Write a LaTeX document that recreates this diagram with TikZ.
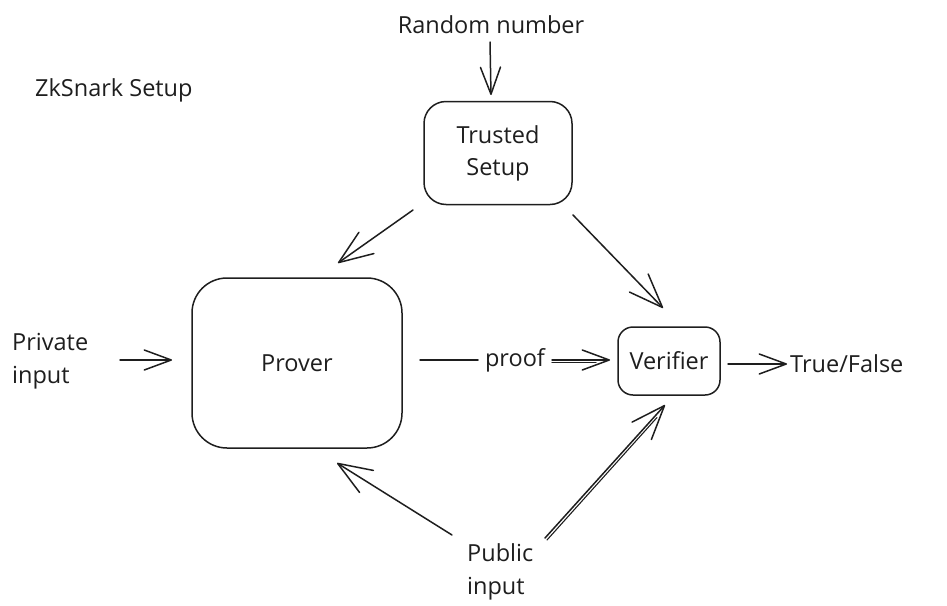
\documentclass[tikz,border=0pt]{standalone}
\usepackage{fontspec}
\setmainfont{Open Sans}
\usetikzlibrary{arrows.meta}
\definecolor{ink}{HTML}{1E1E1E}
\begin{document}
\begin{tikzpicture}[x=1pt,y=-1pt,
  stroke/.style={line width=1.5pt, line cap=round, line join=round, draw=ink},
  box/.style={stroke, rounded corners=#1, inner sep=0pt, align=center,
    text=ink, font=\fontsize{23.5}{32}\selectfont},
  box/.default=20pt,
  txt/.style={inner sep=0pt, text=ink, font=\fontsize{23.5}{33}\selectfont},
  bigtip/.tip={Straight Barb[length=34pt,width=26pt,round]},
  smalltip/.tip={Straight Barb[length=27pt,width=20pt,round]},
  link/.style={stroke, -bigtip},
  shortlink/.style={stroke, -smalltip},
  twin/.style={stroke, line width=1.1pt}
]
\useasboundingbox (0,0) rectangle (947,605);

% labels
\node[txt, anchor=west] (title) at (35,90) {ZkSnark Setup};
\node[txt] (rn) at (491,25) {Random number};
\node[txt, anchor=west, align=left] (priv) at (12,361) {Private\\input};
\node[txt] (proof) at (515,360) {proof};
\node[txt, anchor=west] (tf) at (790,364) {True/False};
\node[txt, anchor=west, align=left] (pub) at (467,572) {Public\\input};

% boxes
\node[box=22pt, minimum width=148pt, minimum height=103pt] (ts) at (498,153) {Trusted\\Setup};
\node[box=35pt, minimum width=210pt, minimum height=170pt] (prover) at (297,363) {Prover};
\node[box=15pt, minimum width=102pt, minimum height=68pt] (ver) at (669,361) {Verifier};

% connector end points
\coordinate (rnA) at (490,42);   \coordinate (rnB) at (491,95);
\coordinate (tpA) at (413,210);  \coordinate (tpB) at (338,263);
\coordinate (tvA) at (573,215);  \coordinate (tvB) at (663,308);
\coordinate (piA) at (120,360);  \coordinate (piB) at (172,360);
\coordinate (prA) at (420,360);  \coordinate (prB) at (478,360);
\coordinate (pfA) at (552,360);  \coordinate (pfB) at (610,360);
\coordinate (vtA) at (728,364);  \coordinate (vtB) at (787,364);
\coordinate (upA) at (452,535);  \coordinate (upB) at (337,463);
\coordinate (uvA) at (545,538);  \coordinate (uvB) at (665,405);

% connectors
\draw[shortlink] (rnA) -- (rnB);
\draw[link] (tpA) -- (tpB);
\draw[link] (tvA) -- (tvB);
\draw[shortlink] (piA) -- (piB);
\draw[stroke] (prA) -- (prB);
\draw[shortlink] (pfA) -- (pfB);
\draw[twin] ([shift={(0,2.5)}]pfA) -- ([shift={(-14,2.5)}]pfB);
\draw[shortlink] (vtA) -- (vtB);
\draw[link] (upA) -- (upB);
\draw[link] (uvA) -- (uvB);
\draw[twin] ([shift={(2,2)}]uvA) -- ([shift={(-8,12.5)}]uvB);
\end{tikzpicture}
\end{document}
